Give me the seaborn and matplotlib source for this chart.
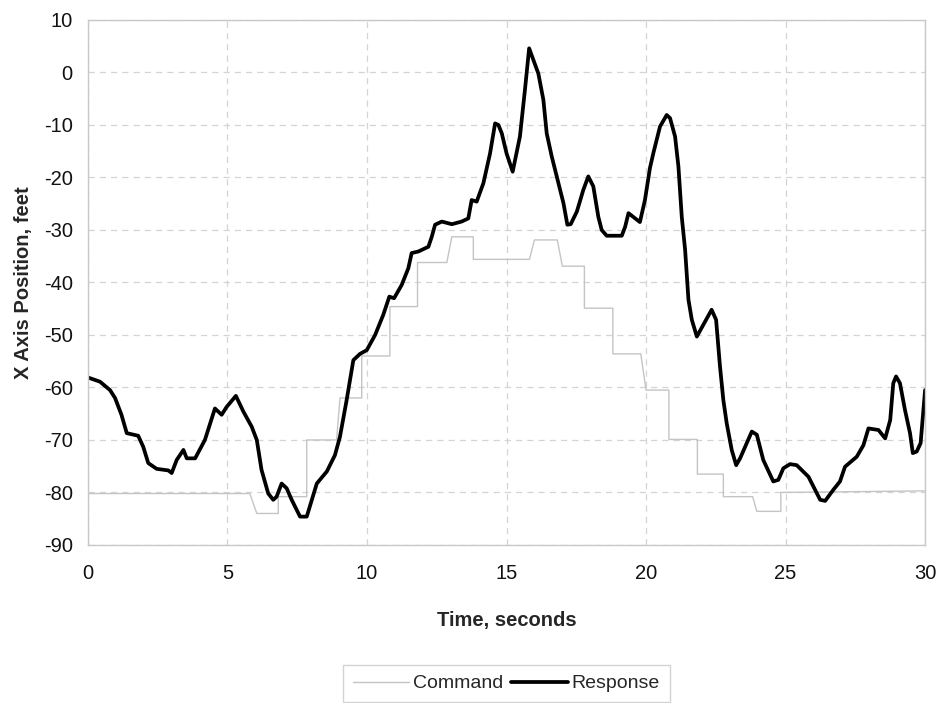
"""X-axis position: command vs. response over 30 seconds."""

import matplotlib
matplotlib.use("Agg")
import matplotlib.pyplot as plt
import pandas as pd
import seaborn as sns

# Command (stepped set-point); repeated times give the vertical steps
command_t = [0, 5.8, 6.05, 6.82, 6.82, 7.84, 7.84, 8.91, 9.03, 9.81, 9.81,
             10.82, 10.82, 11.81, 11.81, 12.86, 13.04, 13.81, 13.81, 15.82,
             16.0, 16.82, 17.0, 17.79, 17.79, 18.81, 18.81, 19.81, 20.0,
             20.82, 20.82, 21.84, 21.84, 22.77, 22.77, 23.82, 23.97, 24.83,
             24.83, 30.0]
command_v = [-80.2, -80.2, -84, -84, -80.8, -80.8, -70, -70, -62, -62, -54,
             -54, -44.6, -44.6, -36.2, -36.2, -31.3, -31.3, -35.6, -35.6,
             -31.9, -31.9, -36.9, -36.9, -44.9, -44.9, -53.6, -53.6, -60.5,
             -60.5, -69.9, -69.9, -76.5, -76.5, -80.8, -80.8, -83.6, -83.6,
             -80, -79.7]

response_t = [0, 0.43, 0.79, 0.97, 1.2, 1.39, 1.8, 1.98, 2.16, 2.46, 2.88, 3.0,
              3.18, 3.42, 3.54, 3.84, 4.19, 4.55, 4.79, 4.97, 5.3, 5.57, 5.87,
              6.05, 6.22, 6.46, 6.64, 6.76, 6.94, 7.12, 7.3, 7.6, 7.84, 8.2,
              8.56, 8.85, 9.03, 9.27, 9.51, 9.75, 9.99, 10.29, 10.58, 10.8,
              10.97, 11.24, 11.48, 11.6, 11.84, 12.2, 12.32, 12.44, 12.68,
              13.04, 13.39, 13.63, 13.75, 13.93, 14.17, 14.41, 14.59, 14.71,
              14.83, 15.0, 15.22, 15.48, 15.66, 15.81, 15.96, 16.14, 16.32,
              16.44, 16.62, 16.86, 17.04, 17.18, 17.3, 17.52, 17.75, 17.93,
              18.11, 18.29, 18.41, 18.59, 19.13, 19.25, 19.37, 19.78, 19.96,
              20.14, 20.26, 20.5, 20.74, 20.86, 21.04, 21.16, 21.28, 21.4,
              21.52, 21.64, 21.82, 22.11, 22.35, 22.51, 22.65, 22.77, 22.89,
              23.07, 23.23, 23.37, 23.61, 23.79, 23.97, 24.2, 24.56, 24.74,
              24.92, 25.16, 25.4, 25.82, 26.0, 26.24, 26.42, 26.71, 26.95,
              27.13, 27.55, 27.79, 27.97, 28.33, 28.57, 28.75, 28.86, 28.96,
              29.1, 29.28, 29.46, 29.56, 29.7, 29.84, 30.0]
response_v = [-58.1, -58.9, -60.5, -62, -65.2, -68.7, -69.2, -71.3, -74.4,
              -75.5, -75.8, -76.3, -73.8, -71.9, -73.5, -73.5, -70, -64, -65.2,
              -63.7, -61.6, -64.6, -67.5, -70, -75.7, -80.2, -81.4, -80.8,
              -78.3, -79.2, -81.4, -84.6, -84.6, -78.3, -76, -72.9, -69.4,
              -62.4, -54.8, -53.6, -52.9, -50, -46.2, -42.7, -43, -40.5, -37.3,
              -34.4, -34.1, -33.2, -31.3, -29, -28.4, -28.9, -28.4, -27.8,
              -24.3, -24.6, -21.1, -15.4, -9.7, -10, -11.6, -15.4, -18.9,
              -12.2, -3.3, 4.6, 2.4, -0.2, -5.2, -11.6, -16, -21.1, -24.9, -29,
              -28.9, -26.5, -22.4, -19.8, -21.7, -27.5, -30, -31.1, -31.1,
              -29.4, -26.8, -28.5, -24.3, -18.2, -15.4, -10.3, -8.1, -8.7,
              -12.2, -17.9, -27.5, -33.8, -43.3, -47.1, -50.3, -47.5, -45.2,
              -47.1, -56, -62.4, -66.8, -71.9, -74.8, -73.5, -70.6, -68.4, -69,
              -73.8, -77.9, -77.6, -75.4, -74.6, -74.8, -77, -78.9, -81.4,
              -81.6, -79.5, -77.9, -75.1, -73.2, -71, -67.8, -68.1, -69.7,
              -66.2, -59.2, -57.9, -59.2, -64.3, -68.7, -72.5, -72.2, -70.6,
              -60.5]

x_ticks = [0, 5, 10, 15, 20, 25, 30]
y_ticks = [-90, -80, -70, -60, -50, -40, -30, -20, -10, 0, 10]

GRID = "#d4d4d4"
FRAME = "#c8c8c8"


def main() -> None:
    sns.set_theme(style="white")
    plt.rcParams["font.family"] = ["Liberation Sans", "DejaVu Sans"]
    plt.rcParams["axes.unicode_minus"] = False

    command = pd.DataFrame({"t": command_t, "v": command_v})
    response = pd.DataFrame({"t": response_t, "v": response_v})

    fig = plt.figure(figsize=(9.43, 7.03), dpi=100)
    ax = fig.add_axes([0.0933, 0.2248, 0.8877, 0.7468])

    sns.lineplot(data=command, x="t", y="v", ax=ax, sort=False, estimator=None,
                 color="#c4c4c4", linewidth=1.0, label="Command")
    sns.lineplot(data=response, x="t", y="v", ax=ax, sort=False, estimator=None,
                 color="black", linewidth=2.7, label="Response")

    ax.set_xlim(0, 30)
    ax.set_ylim(-90, 10)
    ax.set_xticks(x_ticks)
    ax.set_yticks(y_ticks)
    ax.grid(True, color=GRID, linestyle=(0, (5, 4)), linewidth=0.9)
    for spine in ax.spines.values():
        spine.set_color(FRAME)
        spine.set_linewidth(1.0)
    ax.tick_params(axis="both", which="major", direction="out", length=5,
                   width=0.9, color=FRAME, labelsize=14.5, labelcolor="#111111",
                   pad=6)
    ax.tick_params(axis="x", pad=9)

    ax.set_xlabel("Time, seconds", fontsize=14.5, fontweight="bold", labelpad=20)
    ax.set_ylabel("X Axis Position, feet", fontsize=14.5, fontweight="bold",
                  labelpad=8)

    ax.legend(loc="upper center", bbox_to_anchor=(0.537, 0.054),
              bbox_transform=fig.transFigure, ncol=2, frameon=True,
              fancybox=False, edgecolor=FRAME, fontsize=14, handlelength=2.9,
              handletextpad=0.2, columnspacing=0.4, borderpad=0.5,
              borderaxespad=0)

    fig.savefig("out.png", dpi=100)
    plt.close(fig)


if __name__ == "__main__":
    main()
